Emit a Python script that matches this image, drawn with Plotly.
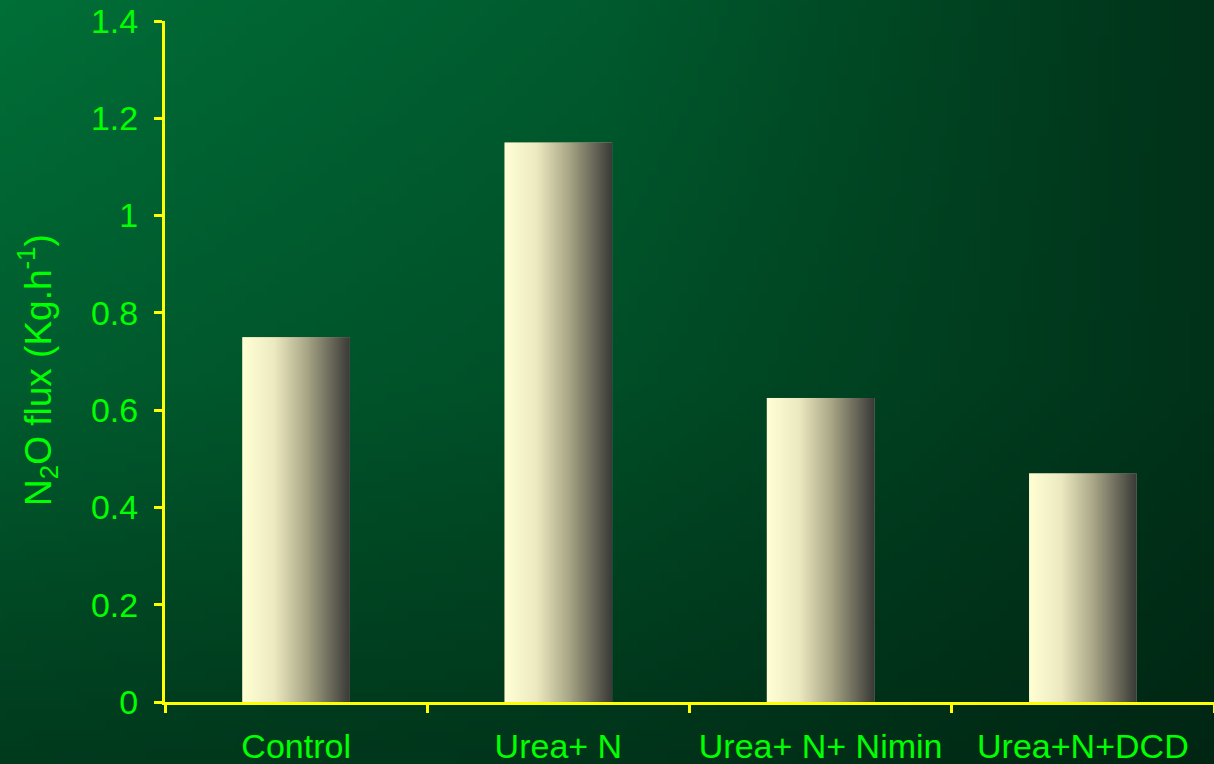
import base64
import struct
import zlib

import plotly.graph_objects as go

# ---------------- data ----------------
categories = ["Control", "Urea+ N", "Urea+ N+ Nimin", "Urea+N+DCD"]
n2o_flux = [0.75, 1.15, 0.625, 0.47]
y_tick_values = [0, 0.2, 0.4, 0.6, 0.8, 1.0, 1.2, 1.4]
y_tick_labels = ["0", "0.2", "0.4", "0.6", "0.8", "1", "1.2", "1.4"]
y_title = "N<sub>2</sub>O flux (Kg.h<sup>-1</sup>)"

# ---------------- styling ----------------
W, H = 1214, 764
M_L, M_R, M_T, M_B = 165, 0, 21, 62
PLOT_W = W - M_L - M_R
PLOT_H = H - M_T - M_B
BAR_FRAC = 0.41
YELLOW = "#FFFF00"
LIME = "#00FF00"
FONT = "Liberation Sans, Arial, sans-serif"


def make_png(w, h, fn):
    rows = []
    for yy in range(h):
        row = bytearray(b"\x00")
        for xx in range(w):
            row.extend(fn(xx, yy))
        rows.append(bytes(row))
    raw = b"".join(rows)

    def chunk(t, d):
        c = struct.pack(">I", len(d)) + t + d
        return c + struct.pack(">I", zlib.crc32(t + d) & 0xFFFFFFFF)

    png = (b"\x89PNG\r\n\x1a\n"
           + chunk(b"IHDR", struct.pack(">IIBBBBB", w, h, 8, 2, 0, 0, 0))
           + chunk(b"IDAT", zlib.compress(raw, 9))
           + chunk(b"IEND", b""))
    return "data:image/png;base64," + base64.b64encode(png).decode()


def lerp(a, b, t):
    return a + (b - a) * t


# bar gradient (left cream -> right dark grey)
bar_stops = [(0.0, (255, 255, 212)), (0.3, (236, 233, 192)),
             (0.6, (168, 166, 134)), (1.0, (58, 58, 56))]


def bar_px(xx, yy, w=256):
    t = xx / (w - 1)
    for (t0, c0), (t1, c1) in zip(bar_stops[:-1], bar_stops[1:]):
        if t0 <= t <= t1:
            f = (t - t0) / (t1 - t0)
            return tuple(int(round(lerp(a, b, f))) for a, b in zip(c0, c1))
    return bar_stops[-1][1]


bar_img = make_png(256, 2, bar_px)

# background gradient (bright green top-left -> dark bottom-right)
g_grid = [[110, 90, 50],
          [92, 78, 50],
          [58, 52, 38]]


def bg_px(xx, yy, w=121, h=77):
    fx = xx / (w - 1) * 2
    fy = yy / (h - 1) * 2
    ix = min(int(fx), 1)
    iy = min(int(fy), 1)
    tx = fx - ix
    ty = fy - iy
    top = lerp(g_grid[iy][ix], g_grid[iy][ix + 1], tx)
    bot = lerp(g_grid[iy + 1][ix], g_grid[iy + 1][ix + 1], tx)
    g = lerp(top, bot, ty)
    return (0, int(round(g)), int(round(g * 0.5)))


bg_img = make_png(121, 77, bg_px)

fig = go.Figure()
fig.add_trace(go.Bar(
    x=categories,
    y=n2o_flux,
    marker=dict(color="#B8B690", line=dict(width=0)),
    width=BAR_FRAC,
    hoverinfo="x+y",
))

images = [dict(
    source=bg_img, xref="paper", yref="paper",
    x=-M_L / PLOT_W, y=1 + M_T / PLOT_H,
    sizex=W / PLOT_W, sizey=H / PLOT_H,
    xanchor="left", yanchor="top", sizing="stretch", layer="below",
)]
for i, v in enumerate(n2o_flux):
    images.append(dict(
        source=bar_img, xref="x", yref="y",
        x=i - BAR_FRAC / 2, y=v, sizex=BAR_FRAC, sizey=v,
        xanchor="left", yanchor="top", sizing="stretch", layer="above",
    ))

fig.update_layout(
    width=W, height=H,
    margin=dict(l=M_L, r=M_R, t=M_T, b=M_B, pad=0),
    paper_bgcolor="#00552B",
    plot_bgcolor="rgba(0,0,0,0)",
    font=dict(family=FONT, color=LIME, size=34),
    showlegend=False,
    images=images,
    annotations=[dict(
        text=y_title, xref="paper", yref="paper",
        x=(37 - M_L) / PLOT_W, y=(H - M_B - 370) / PLOT_H,
        xanchor="center", yanchor="middle",
        textangle=-90, showarrow=False,
        font=dict(family=FONT, color=LIME, size=37),
    )],
)

fig.update_xaxes(
    type="category", range=[-0.5, 3.5],
    showline=True, linecolor=YELLOW, linewidth=3,
    ticks="outside", tickson="boundaries", ticklen=8, tickwidth=3, tickcolor=YELLOW,
    showgrid=False, zeroline=False,
    tickfont=dict(family=FONT, color=LIME, size=34),
    ticklabelstandoff=12,
)
fig.update_yaxes(
    range=[0, 1.4],
    tickvals=y_tick_values, ticktext=y_tick_labels,
    showline=True, linecolor=YELLOW, linewidth=3,
    ticks="outside", ticklen=8, tickwidth=3, tickcolor=YELLOW,
    showgrid=False, zeroline=False,
    tickfont=dict(family=FONT, color=LIME, size=34),
    ticklabelstandoff=9,
)

fig.write_html("out.html")
